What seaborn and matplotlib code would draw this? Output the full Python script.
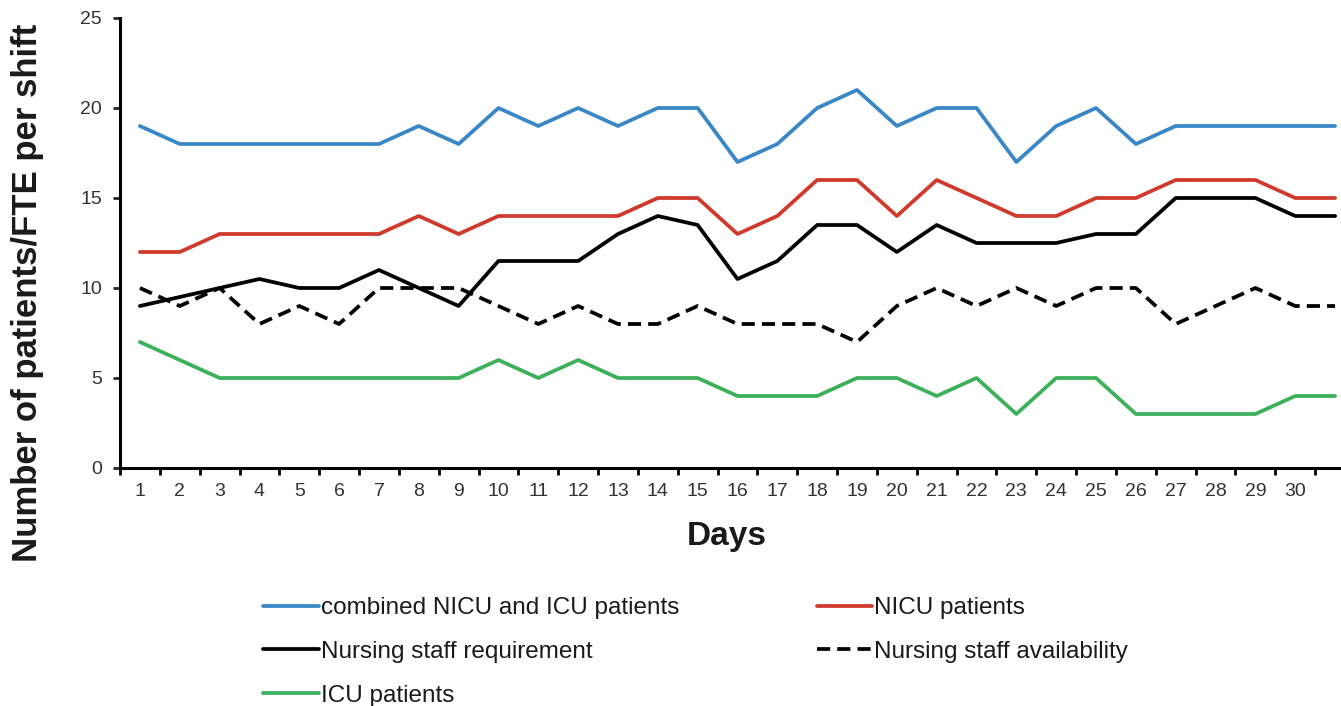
import matplotlib
matplotlib.use("Agg")
import matplotlib.pyplot as plt
import numpy as np
import pandas as pd
import seaborn as sns

# Days 1..31 (day 31 runs off the right edge, as in the source)
days = list(range(1, 32))
combined = [19, 18, 18, 18, 18, 18, 18, 19, 18, 20, 19, 20, 19, 20, 20, 17,
            18, 20, 21, 19, 20, 20, 17, 19, 20, 18, 19, 19, 19, 19, 19]
nicu = [12, 12, 13, 13, 13, 13, 13, 14, 13, 14, 14, 14, 14, 15, 15, 13,
        14, 16, 16, 14, 16, 15, 14, 14, 15, 15, 16, 16, 16, 15, 15]
staff_req = [9, 9.5, 10, 10.5, 10, 10, 11, 10, 9, 11.5, 11.5, 11.5, 13, 14, 13.5, 10.5,
             11.5, 13.5, 13.5, 12, 13.5, 12.5, 12.5, 12.5, 13, 13, 15, 15, 15, 14, 14]
staff_avail = [10, 9, 10, 8, 9, 8, 10, 10, 10, 9, 8, 9, 8, 8, 9, 8,
               8, 8, 7, 9, 10, 9, 10, 9, 10, 10, 8, 9, 10, 9, 9]
icu = [7, 6, 5, 5, 5, 5, 5, 5, 5, 6, 5, 6, 5, 5, 5, 4,
       4, 4, 5, 5, 4, 5, 3, 5, 5, 3, 3, 3, 3, 4, 4]
tick_labels = [str(d) for d in range(1, 31)]

df = pd.DataFrame({"day": days, "combined": combined, "nicu": nicu,
                   "req": staff_req, "avail": staff_avail, "icu": icu})

sns.set_style("ticks")
plt.rcParams['font.family'] = ['Liberation Sans', 'DejaVu Sans']

fig = plt.figure(figsize=(13.41, 7.06), dpi=100)
# axes runs past the right edge of the figure on purpose (cropped source)
ax = fig.add_axes([120 / 1341, 238 / 706, 1235 / 1341, 450 / 706])

lw = 2.7
sns.lineplot(data=df, x="day", y="combined", ax=ax, color="#3a87c8", lw=lw,
             label="combined NICU and ICU patients")
sns.lineplot(data=df, x="day", y="req", ax=ax, color="black", lw=lw,
             label="Nursing staff requirement")
sns.lineplot(data=df, x="day", y="icu", ax=ax, color="#3cb05a", lw=lw,
             label="ICU patients")
sns.lineplot(data=df, x="day", y="nicu", ax=ax, color="#cf3a2c", lw=lw,
             label="NICU patients")
sns.lineplot(data=df, x="day", y="avail", ax=ax, color="black", lw=lw,
             linestyle=(0, (3.5, 1.9)), label="Nursing staff availability")

ax.set_xlim(0.5, 31.5)
ax.set_ylim(0, 25)
ax.set_yticks(range(0, 26, 5))
ax.set_xticks(np.arange(0.5, 32, 1))
ax.set_xticklabels([])
ax.set_xticks(range(1, 31), minor=True)
ax.set_xticklabels(tick_labels, minor=True)
ax.tick_params(axis="x", which="major", length=5, width=2, color="black")
ax.tick_params(axis="x", which="minor", length=0, pad=11, labelsize=14, labelcolor="#333333")
ax.tick_params(axis="y", length=5, width=2, pad=8, labelsize=14, labelcolor="#333333")
ax.set_xlabel("")
ax.set_ylabel("")
for s in ["left", "bottom"]:
    ax.spines[s].set_linewidth(2.2)
    ax.spines[s].set_color("black")
sns.despine(ax=ax)

fig.text(28 / 1341, 1 - 293 / 706, "Number of patients/FTE per shift", rotation=90,
         ha="center", va="center", fontsize=25, fontweight="bold", color="#1a1a1a")
fig.text(727 / 1341, 1 - 537 / 706, "Days", ha="center", va="center",
         fontsize=24, fontweight="bold", color="#1a1a1a")

handles, labels = ax.get_legend_handles_labels()
ax.get_legend().remove()
fig.legend(handles, labels, ncol=2, loc="upper left",
           bbox_to_anchor=(263 / 1341, 1 - 597 / 706), frameon=False,
           fontsize=17.5, handlelength=2.3, handletextpad=0.08,
           columnspacing=5.65, labelspacing=0.9, borderpad=0, borderaxespad=0,
           labelcolor="#1a1a1a")

fig.savefig("out.png", dpi=100)
